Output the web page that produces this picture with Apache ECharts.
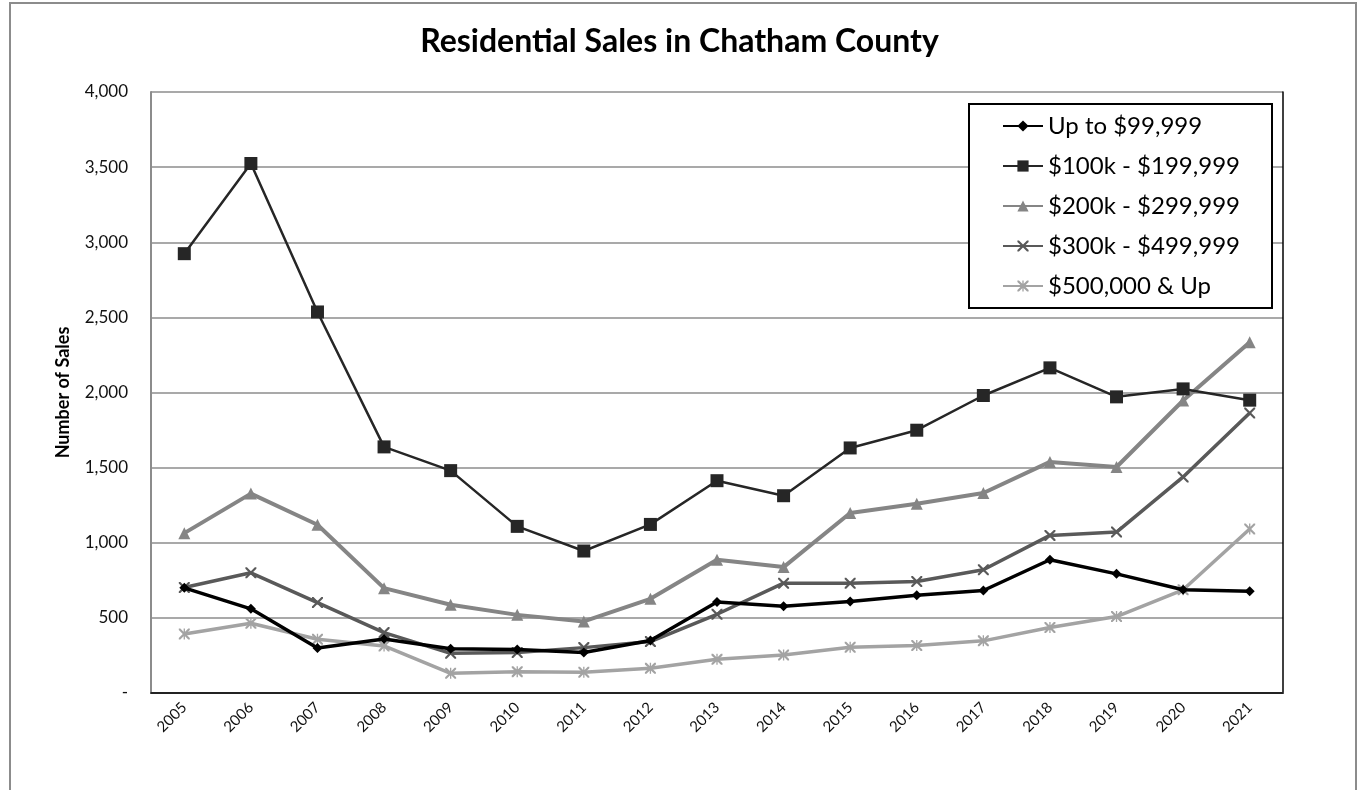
<!DOCTYPE html>
<html>
<head>
<meta charset="utf-8">
<script src="https://cdn.jsdelivr.net/npm/echarts@6/dist/echarts.min.js"></script>
<style>
html,body{margin:0;padding:0;background:#fff;}
#chart{width:1359px;height:790px;}
</style>
</head>
<body>
<div id="chart"></div>
<script>
const years = ['2005','2006','2007','2008','2009','2010','2011','2012','2013','2014','2015','2016','2017','2018','2019','2020','2021'];
const seriesNames = ['Up to $99,999', '$100k - $199,999', '$200k - $299,999', '$300k - $499,999', '$500,000 & Up'];
const upTo99 = [700, 560, 300, 360, 295, 290, 270, 350, 605, 578, 609, 650, 682, 887, 793, 687, 678];
const k100to199 = [2924, 3524, 2536, 1638, 1480, 1109, 945, 1122, 1413, 1313, 1631, 1749, 1980, 2164, 1971, 2024, 1949];
const k200to299 = [1064, 1327, 1120, 698, 587, 520, 476, 627, 887, 838, 1198, 1260, 1331, 1538, 1504, 1947, 2335];
const k300to499 = [702, 800, 602, 402, 264, 269, 302, 342, 524, 731, 731, 742, 820, 1049, 1071, 1438, 1864];
const k500up = [393, 464, 358, 313, 131, 142, 138, 164, 224, 253, 304, 316, 347, 436, 509, 687, 1091];
const yTicks = [0, 500, 1000, 1500, 2000, 2500, 3000, 3500, 4000];

const FONT = 'Lato, "Open Sans", sans-serif';
const xPath = 'path://M0,0 L1.4,0 L5,3.6 L8.6,0 L10,0 L10,1.4 L6.4,5 L10,8.6 L10,10 L8.6,10 L5,6.4 L1.4,10 L0,10 L0,8.6 L3.6,5 L0,1.4 Z';
const starPath = 'path://M0,0 L1.4,0 L5,3.6 L8.6,0 L10,0 L10,1.4 L6.4,5 L10,8.6 L10,10 L8.6,10 L5,6.4 L1.4,10 L0,10 L0,8.6 L3.6,5 L0,1.4 Z M4.4,0 L5.6,0 L5.6,10 L4.4,10 Z';

const chart = echarts.init(document.getElementById('chart'), null, {renderer: 'canvas'});

function fmt(v) {
  if (v === 0) return '-';
  return v.toLocaleString('en-US');
}

const styles = [
  {color: '#000000', width: 3.5, symbol: 'diamond', size: 10},
  {color: '#262626', width: 2.5, symbol: 'rect', size: 13},
  {color: '#858585', width: 4, symbol: 'triangle', size: 12},
  {color: '#595959', width: 3.5, symbol: xPath, size: 11},
  {color: '#a3a3a3', width: 3.5, symbol: starPath, size: 11}
];
const dataSets = [upTo99, k100to199, k200to299, k300to499, k500up];

const series = dataSets.map((d, i) => ({
  name: seriesNames[i],
  type: 'line',
  data: d,
  symbol: styles[i].symbol,
  symbolSize: styles[i].size,
  showAllSymbol: true,
  itemStyle: {color: styles[i].color},
  lineStyle: {color: styles[i].color, width: styles[i].width},
  emphasis: {disabled: true},
  animation: false,
  z: 10 - i
}));
series.reverse();

chart.setOption({
  animation: false,
  backgroundColor: '#ffffff',
  title: {
    text: 'Residential Sales in Chatham County',
    left: 'center',
    top: 21,
    textStyle: {fontFamily: FONT, fontWeight: 'bold', fontSize: 32, color: '#000'}
  },
  graphic: [
    {type: 'rect', shape: {x: 10, y: 3, width: 1346, height: 800}, style: {fill: 'none', stroke: '#8c8c8c', lineWidth: 2}, z: 0, silent: true},
    {type: 'rect', shape: {x: 969, y: 104, width: 303, height: 204}, style: {fill: '#ffffff', stroke: '#000000', lineWidth: 2}, z: 3, silent: true}
  ],
  legend: {
    orient: 'vertical',
    left: 1002,
    top: 111,
    padding: 0,
    itemWidth: 40,
    itemHeight: 14,
    itemGap: 10,
    data: seriesNames,
    textStyle: {fontFamily: FONT, fontSize: 24, lineHeight: 30, color: '#000'},
    z: 6
  },
  grid: {left: 151, top: 92, right: 76, bottom: 97, containLabel: false},
  xAxis: [
    {
      type: 'category',
      data: years,
      boundaryGap: true,
      axisLine: {lineStyle: {color: '#8c8c8c', width: 2}},
      axisTick: {show: false},
      axisLabel: {rotate: 45, margin: 12, fontFamily: FONT, fontSize: 15, color: '#111', interval: 0}
    },
    {
      type: 'category',
      data: years,
      position: 'top',
      axisLine: {lineStyle: {color: '#000', width: 1.5}},
      axisTick: {show: false},
      axisLabel: {show: false}
    }
  ],
  yAxis: [
    {
      type: 'value',
      min: yTicks[0],
      max: yTicks[yTicks.length - 1],
      interval: 500,
      name: 'Number of Sales',
      nameLocation: 'middle',
      nameRotate: 90,
      nameGap: 79,
      nameTextStyle: {fontFamily: FONT, fontWeight: 'bold', fontSize: 18, color: '#000'},
      axisLine: {show: true, lineStyle: {color: '#8c8c8c', width: 2}},
      axisTick: {show: false},
      splitLine: {lineStyle: {color: '#8c8c8c', width: 1.5}},
      axisLabel: {formatter: fmt, margin: 23, fontFamily: FONT, fontSize: 17, color: '#111'}
    },
    {
      type: 'value',
      min: yTicks[0],
      max: yTicks[yTicks.length - 1],
      interval: 500,
      position: 'right',
      axisLine: {show: true, lineStyle: {color: '#000', width: 1.5}},
      axisTick: {show: false},
      splitLine: {show: false},
      axisLabel: {show: false}
    }
  ],
  series: series
});
</script>
</body>
</html>
